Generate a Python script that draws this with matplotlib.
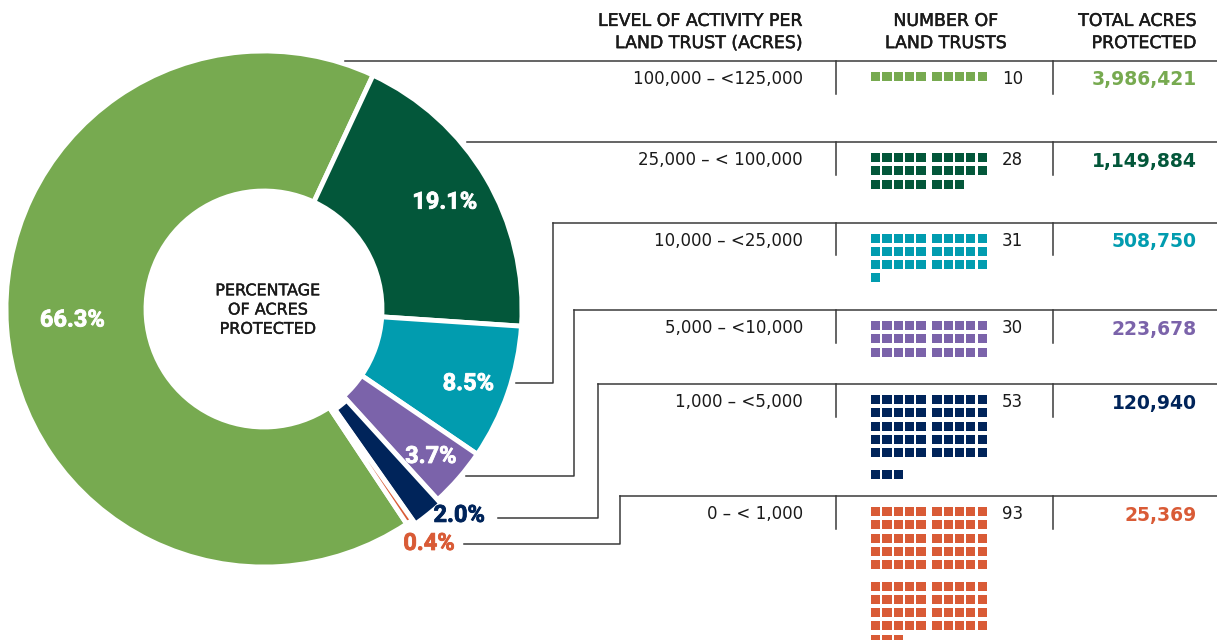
import matplotlib.pyplot as plt
import matplotlib.patheffects as pe
from matplotlib.patches import Rectangle
import numpy as np

# data
ranges = ["100,000 – <125,000", "25,000 – < 100,000", "10,000 – <25,000",
          "5,000 – <10,000", "1,000 – <5,000", "0 – < 1,000"]
trusts = [10, 28, 31, 30, 53, 93]
acres = [3986421, 1149884, 508750, 223678, 120940, 25369]
colors = ["#77AA50", "#03573A", "#019CAF", "#7B63AA", "#00245A", "#D95B36"]
pct_colors = ["white", "white", "white", "white", "#00245A", "#D95B36"]

W, H = 1217, 640
fig = plt.figure(figsize=(W / 100, H / 100), dpi=100)
ax = fig.add_axes([0, 0, 1, 1])


def Y(py):
    # pixel row (from top) -> data y
    return H - py


def heavy(c, w=0.3):
    # slightly thicker strokes than the regular weight
    return [pe.withStroke(linewidth=w, foreground=c)]


# donut
cx, cy, R = 264, Y(309), 258
share = np.array(acres) / sum(acres)
start = 65 + 360 * share[0]
wedges, _ = ax.pie(acres, colors=colors, startangle=start, counterclock=False,
                   radius=R, center=(cx, cy), explode=[0, 0, 0, 0, 5, 0],
                   wedgeprops=dict(width=140, edgecolor="white", linewidth=3.5))

lab_r = [0.75, 0.82, 0.85, 0.87, 1.11, 1.12]
lab_shift = [-1, 0, -1, -0.5, 4.7, 0.8]
for w, s, c, r, d in zip(wedges, share, pct_colors, lab_r, lab_shift):
    th = np.deg2rad((w.theta1 + w.theta2) / 2 + d)
    ax.text(cx + r * 256 * np.cos(th), cy + r * 256 * np.sin(th), f"{s * 100:.1f}%",
            color=c, fontsize=17, fontweight="bold", family="Roboto",
            ha="center", va="center", path_effects=heavy(c, 0.6))

ax.text(cx + 4, Y(310), "PERCENTAGE\nOF ACRES\nPROTECTED", fontsize=11.5,
        ha="center", va="center", linespacing=1.35, color="#1a1a1a",
        path_effects=heavy("#1a1a1a"))

# headers
hdr = dict(fontsize=12.5, va="center", linespacing=1.3, color="#1a1a1a",
           path_effects=heavy("#1a1a1a", 0.35))
ax.text(803, Y(32), "LEVEL OF ACTIVITY PER\nLAND TRUST (ACRES)", ha="right", multialignment="right", **hdr)
ax.text(946, Y(32), "NUMBER OF\nLAND TRUSTS", ha="center", multialignment="center", **hdr)
ax.text(1197, Y(32), "TOTAL ACRES\nPROTECTED", ha="right", multialignment="right", **hdr)

# table rows
seps = [61, 142, 222.5, 310, 384, 496]
sep_x0 = [345, 467, 553, 574, 598, 620]
leader_y = [None, None, 382.5, 476, 517.5, 544]
leader_x = [None, None, 516, 466, 498, 464]
lc = "#3a3a3a"

for i in range(len(ranges)):
    sy = seps[i]
    ax.plot([sep_x0[i], W], [Y(sy), Y(sy)], color=lc, lw=1.1)
    if leader_y[i] is not None:
        ax.plot([sep_x0[i], sep_x0[i], leader_x[i]],
                [Y(sy), Y(leader_y[i]), Y(leader_y[i])], color=lc, lw=1.1)
    for vx in (836, 1053):
        ax.plot([vx, vx], [Y(sy), Y(sy + 32.5)], color=lc, lw=1.1)

    ax.text(803, Y(sy + 18), ranges[i], fontsize=12, ha="right", va="center", color="#1a1a1a")
    ax.text(1023, Y(sy + 18), str(trusts[i]), fontsize=12, ha="right", va="center", color="#1a1a1a")
    ax.text(1197, Y(sy + 19), f"{acres[i]:,}", fontsize=13.5, fontweight="bold",
            ha="right", va="center", color=colors[i])

    # waffle squares
    top = sy + 11
    for k in range(trusts[i]):
        r, c = divmod(k, 10)
        x = 871 + c * 11.3 + (4.8 if c >= 5 else 0)
        y = top + r * 13.3 + (8 if r >= 5 else 0)
        ax.add_patch(Rectangle((x, Y(y + 9)), 9.3, 9, color=colors[i], lw=0))

ax.set_xlim(0, W)
ax.set_ylim(0, H)
ax.axis("off")

fig.savefig("out.png", dpi=100)
